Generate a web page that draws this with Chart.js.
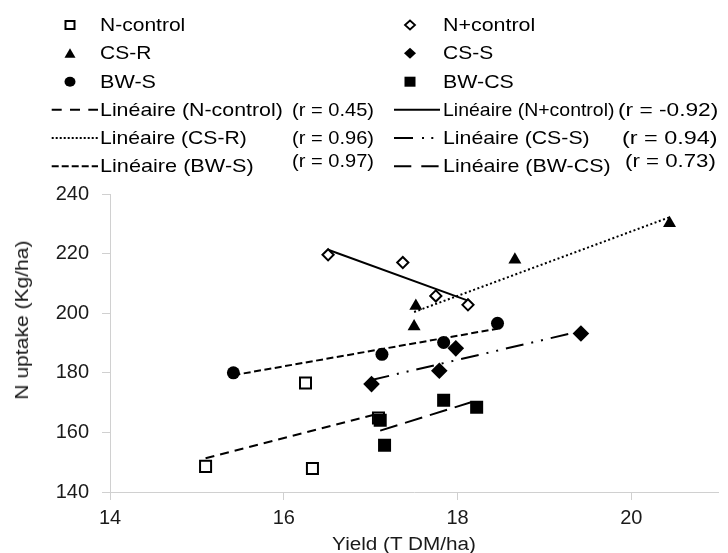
<!DOCTYPE html>
<html><head><meta charset="utf-8">
<script src="https://cdn.jsdelivr.net/npm/chart.js@4.4.0/dist/chart.umd.min.js"></script>
<style>
html,body{margin:0;padding:0;background:#fff;}
#wrap{position:relative;width:728px;height:553px;overflow:hidden;font-family:"Liberation Sans",Arial,sans-serif;}
#c{position:absolute;left:0;top:0;}
.lt{position:absolute;white-space:nowrap;font-size:18.6px;line-height:18.6px;color:#000;transform-origin:0 0;}
.ax{position:absolute;white-space:nowrap;font-size:18px;line-height:18px;color:#1a1a1a;text-align:center;width:220px;}
#lg{position:absolute;left:0;top:0;}
</style></head><body>
<div id="wrap"><canvas id="c" width="728" height="553"></canvas></div>
<script>
// ---- data ----
const seriesNames = ['N-control', 'N+control', 'CS-R', 'CS-S', 'BW-S', 'BW-CS'];
const rValues = ['0.45', '-0.92', '0.96', '0.94', '0.97', '0.73'];
const xTitle = 'Yield (T DM/ha)';
const yTitle = 'N uptake (Kg/ha)';

const nControlYield  = [15.10, 16.25, 16.33, 17.09];
const nControlUptake = [148.6, 176.6, 147.9, 164.8];
const nPlusYield     = [16.51, 17.37, 17.75, 18.12];
const nPlusUptake    = [219.6, 217.0, 205.8, 202.8];
const csrYield       = [17.50, 17.52, 18.66, 20.44];
const csrUptake      = [195.5, 202.4, 217.9, 230.2];
const cssYield       = [17.01, 17.79, 17.98, 19.42];
const cssUptake      = [176.2, 180.7, 188.2, 193.2];
const bwsYield       = [15.42, 17.13, 17.84, 18.46];
const bwsUptake      = [180.0, 186.2, 190.2, 196.6];
const bwcsYield      = [17.11, 17.16, 17.84, 18.22];
const bwcsUptake     = [164.1, 155.7, 170.8, 168.4];

// trend line end points
const nControlTrendX = [15.10, 17.08];
const nControlTrendY = [151.3, 166.2];
const nPlusTrendX    = [16.51, 18.12];
const nPlusTrendY    = [221.3, 204.2];
const csrTrendX      = [17.50, 20.44];
const csrTrendY      = [200.4, 232.2];
const cssTrendX      = [17.01, 19.42];
const cssTrendY      = [177.6, 194.0];
const bwsTrendX      = [15.42, 18.46];
const bwsTrendY      = [179.2, 194.8];
const bwcsTrendX     = [17.11, 18.22];
const bwcsTrendY     = [160.6, 170.7];

// ---- chart ----
const mk = (xs, ys) => xs.map((x, i) => ({x: x, y: ys[i]}));
const trend = (xs, ys, dash) => ({data: mk(xs, ys), showLine: true, pointRadius: 0, borderColor: '#000', borderWidth: 2, borderDash: dash, backgroundColor: '#000'});

new Chart(document.getElementById('c'), {
  type: 'scatter',
  data: {datasets: [
    {label: seriesNames[5], data: mk(bwcsYield, bwcsUptake), pointStyle: 'rect', pointRadius: 9.2, backgroundColor: '#000', borderColor: '#000', borderWidth: 0},
    {label: seriesNames[4], data: mk(bwsYield, bwsUptake), pointStyle: 'circle', pointRadius: 6.5, backgroundColor: '#000', borderColor: '#000', borderWidth: 0},
    {label: seriesNames[3], data: mk(cssYield, cssUptake), pointStyle: 'rectRot', pointRadius: 8.3, backgroundColor: '#000', borderColor: '#000', borderWidth: 0},
    {label: seriesNames[2], data: mk(csrYield, csrUptake), pointStyle: 'triangle', pointRadius: 7.5, backgroundColor: '#000', borderColor: '#000', borderWidth: 0},
    {label: seriesNames[1], data: mk(nPlusYield, nPlusUptake), pointStyle: 'rectRot', pointRadius: 5.6, backgroundColor: '#fff', borderColor: '#000', borderWidth: 2},
    {label: seriesNames[0], data: mk(nControlYield, nControlUptake), pointStyle: 'rect', pointRadius: 7.8, backgroundColor: '#fff', borderColor: '#000', borderWidth: 2},
    Object.assign({label: 'Linéaire (' + seriesNames[0] + ')'}, trend(nControlTrendX, nControlTrendY, [9, 6])),
    Object.assign({label: 'Linéaire (' + seriesNames[1] + ')'}, trend(nPlusTrendX, nPlusTrendY, [])),
    Object.assign({label: 'Linéaire (' + seriesNames[2] + ')'}, trend(csrTrendX, csrTrendY, [2, 2.5])),
    Object.assign({label: 'Linéaire (' + seriesNames[3] + ')'}, trend(cssTrendX, cssTrendY, [18, 8, 2, 8, 2, 8])),
    Object.assign({label: 'Linéaire (' + seriesNames[4] + ')'}, trend(bwsTrendX, bwsTrendY, [7, 3.5])),
    Object.assign({label: 'Linéaire (' + seriesNames[5] + ')'}, trend(bwcsTrendX, bwcsTrendY, [18, 8]))
  ]},
  options: {
    responsive: false, animation: false, devicePixelRatio: 1, events: [],
    plugins: {legend: {display: false}, tooltip: {enabled: false}},
    layout: {padding: {top: 194, right: 6, left: 0, bottom: 0}},
    scales: {
      x: {type: 'linear', min: 14, max: 21,
        ticks: {stepSize: 2, includeBounds: false, color: '#1a1a1a', font: {family: 'Liberation Sans', size: 20}, padding: 6, maxRotation: 0},
        grid: {drawOnChartArea: false, drawTicks: true, tickLength: 8, color: '#d0d0d0'},
        border: {color: '#d0d0d0'},
        afterFit: s => { s.height = 61; }},
      y: {type: 'linear', min: 140, max: 240,
        ticks: {stepSize: 20, includeBounds: false, color: '#1a1a1a', font: {family: 'Liberation Sans', size: 20}, padding: 13},
        grid: {drawOnChartArea: false, drawTicks: true, tickLength: 8, color: '#d0d0d0'},
        border: {color: '#d0d0d0'},
        afterFit: s => { s.width = 110; }}
    }
  }
});

// ---- legend (HTML text + SVG symbols) ----
const wrap = document.getElementById('wrap');
function addText(txt, x0, x1, cy) {
  const d = document.createElement('div');
  d.className = 'lt';
  d.textContent = txt;
  d.style.left = x0 + 'px';
  d.style.top = (cy - 9.08) + 'px';
  wrap.appendChild(d);
  const w = d.getBoundingClientRect().width;
  d.style.transform = 'scaleX(' + ((x1 - x0) / w) + ')';
}
const NS = 'http://www.w3.org/2000/svg';
const svg = document.createElementNS(NS, 'svg');
svg.setAttribute('id', 'lg'); svg.setAttribute('width', '728'); svg.setAttribute('height', '190');
wrap.appendChild(svg);
function shape(tag, attrs) {
  const e = document.createElementNS(NS, tag);
  for (const k in attrs) e.setAttribute(k, attrs[k]);
  svg.appendChild(e);
}
function marker(kind, cx, cy) {
  if (kind === 'openSquare') shape('rect', {x: cx - 4.5, y: cy - 4, width: 9, height: 8, fill: '#fff', stroke: '#000', 'stroke-width': 2});
  if (kind === 'filledSquare') shape('rect', {x: cx - 5.5, y: cy - 5, width: 11, height: 10, fill: '#000'});
  if (kind === 'openDiamond') shape('polygon', {points: `${cx-5},${cy} ${cx},${cy-4.5} ${cx+5},${cy} ${cx},${cy+4.5}`, fill: '#fff', stroke: '#000', 'stroke-width': 1.8});
  if (kind === 'filledDiamond') shape('polygon', {points: `${cx-6},${cy} ${cx},${cy-5.5} ${cx+6},${cy} ${cx},${cy+5.5}`, fill: '#000'});
  if (kind === 'triangle') shape('polygon', {points: `${cx},${cy-5} ${cx+5.5},${cy+4.5} ${cx-5.5},${cy+4.5}`, fill: '#000'});
  if (kind === 'circle') shape('ellipse', {cx: cx, cy: cy, rx: 5.5, ry: 5, fill: '#000'});
}
function sample(x1, x2, cy, dash) {
  shape('line', {x1: x1, y1: cy, x2: x2, y2: cy, stroke: '#000', 'stroke-width': 2, 'stroke-dasharray': dash});
}
const rowY = [25, 53.3, 81.7, 109.7, 138, 166.3];
const kinds = ['openSquare', 'openDiamond', 'triangle', 'filledDiamond', 'circle', 'filledSquare'];
const dashes = ['10 8.3', 'none', '2 2', '19 9 2 7.3 2 7', '7 3', '17.3 10'];
const nameEnd = [185.5, 535.2, 151.5, 493.2, 156.2, 513.8];
const lineEnd = [283, 614.5, 247, 589.7, 254, 610.7];
for (let i = 0; i < 6; i++) {
  const col = i % 2, row = Math.floor(i / 2);
  const tx = col ? 443 : 100.2;
  marker(kinds[i], col ? 410 : 70, rowY[row]);
  addText(seriesNames[i], tx, nameEnd[i], rowY[row]);
  const cy = rowY[row + 3];
  if (col === 0) sample(51.7, 98, cy, dashes[i]); else sample(394, 440, cy, dashes[i]);
  addText('Linéaire (' + seriesNames[i] + ')', tx, lineEnd[i], cy);
}
const rX0 = [292, 617.7, 292, 622.4, 292, 624.7];
const rX1 = [374, 718, 374, 718, 374, 715.6];
const rY = [109.7, 109.7, 138, 138, 161.3, 161];
for (let i = 0; i < 6; i++) addText('(r = ' + rValues[i] + ')', rX0[i], rX1[i], rY[i]);

// axis titles
const xt = document.createElement('div');
xt.className = 'ax'; xt.textContent = xTitle;
xt.style.left = (404 - 110) + 'px'; xt.style.top = (543.7 - 8.8) + 'px';
xt.style.transform = 'scaleX(1.15)';
wrap.appendChild(xt);
const yt = document.createElement('div');
yt.className = 'ax'; yt.textContent = yTitle;
yt.style.left = (22 - 110) + 'px'; yt.style.top = (320 - 9) + 'px';
yt.style.transform = 'rotate(-90deg) scaleX(1.17)';
wrap.appendChild(yt);
</script>
</body></html>
